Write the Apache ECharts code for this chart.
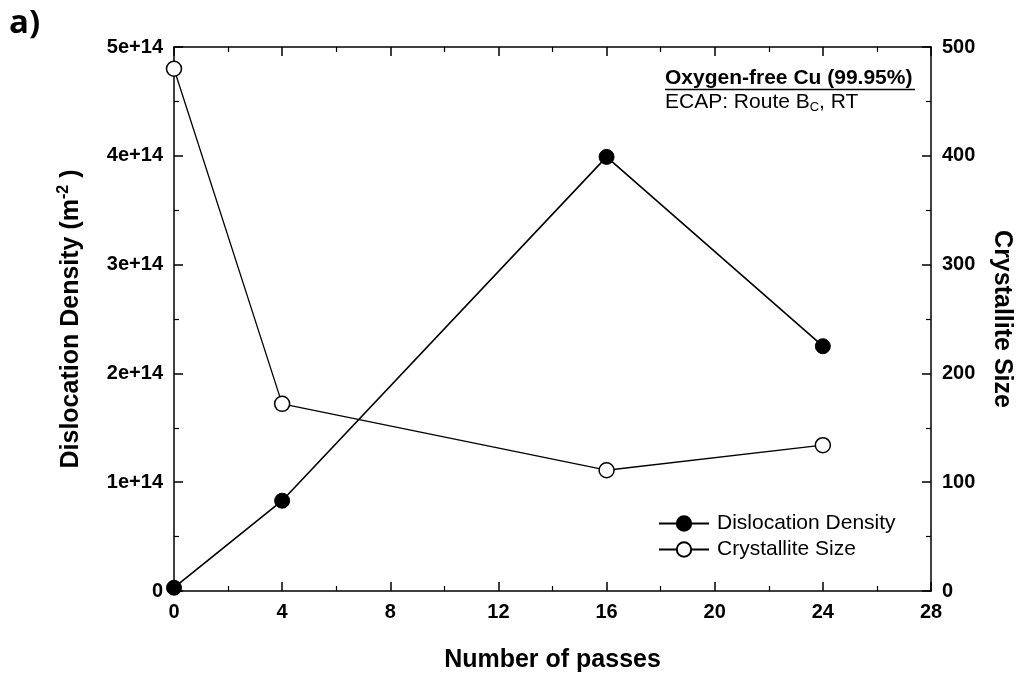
<!DOCTYPE html>
<html><head><meta charset="utf-8">
<script src="https://cdn.jsdelivr.net/npm/echarts@6/dist/echarts.min.js"></script>
<style>html,body{margin:0;padding:0;background:#fff}#c{width:1022px;height:682px}</style>
</head><body><div id="c"></div>
<script>
const passes = [0, 4, 16, 24];
const dislocationDensity = [3e12, 8.3e13, 3.99e14, 2.25e14];
const crystalliteSize = [480, 172, 111, 134];
const seriesNames = ['Dislocation Density', 'Crystallite Size'];
const yLeftTicks = ['0', '1e+14', '2e+14', '3e+14', '4e+14', '5e+14'];

const chart = echarts.init(document.getElementById('c'));
const F = 'Liberation Sans, Arial, sans-serif';
const axisCommon = {
  axisLine: {show: true, onZero: false, lineStyle: {color: '#000', width: 1.5}},
  axisTick: {show: true, inside: true, length: 9, lineStyle: {color: '#000', width: 1.5}},
  minorTick: {show: true, splitNumber: 2, length: 5, lineStyle: {color: '#000', width: 1.2}},
  splitLine: {show: false}
};
chart.setOption({
  backgroundColor: '#fff',
  animation: false,
  grid: {left: 174, right: 91, top: 47, bottom: 91},
  legend: {
    orient: 'vertical', left: 653, top: 508, itemWidth: 50, itemHeight: 18, itemGap: 5,
    textStyle: {fontFamily: F, fontSize: 21, color: '#000', lineHeight: 21, padding: [0, 0, 0, 3]},
    data: seriesNames
  },
  xAxis: [
    Object.assign({}, axisCommon, {
      type: 'value', min: 0, max: 28, interval: 4, position: 'bottom',
      name: 'Number of passes', nameLocation: 'middle', nameGap: 57,
      nameTextStyle: {fontFamily: F, fontSize: 25, fontWeight: 'bold', color: '#000'},
      axisLabel: {fontFamily: F, fontSize: 20, fontWeight: 'bold', color: '#000', margin: 11}
    }),
    Object.assign({}, axisCommon, {
      type: 'value', min: 0, max: 28, interval: 4, position: 'top',
      axisLabel: {show: false}
    })
  ],
  yAxis: [
    Object.assign({}, axisCommon, {
      type: 'value', min: 0, max: 5e14, interval: 1e14, position: 'left',
      name: 'Dislocation Density (m{sup|-2} )', nameLocation: 'middle', nameGap: 88, nameRotate: 90,
      nameTextStyle: {fontFamily: F, fontSize: 25, fontWeight: 'bold', color: '#000',
        rich: {sup: {fontFamily: F, fontSize: 16, fontWeight: 'bold', color: '#000', verticalAlign: 'top', padding: [0,0,14,0]}}},
      axisLabel: {fontFamily: F, fontSize: 20, fontWeight: 'bold', color: '#000', margin: 11,
        formatter: (v) => yLeftTicks[Math.round(v / 1e14)]}
    }),
    Object.assign({}, axisCommon, {
      type: 'value', min: 0, max: 500, interval: 100, position: 'right',
      name: 'Crystallite Size', nameLocation: 'middle', nameGap: 58, nameRotate: -90,
      nameTextStyle: {fontFamily: F, fontSize: 25, fontWeight: 'bold', color: '#000'},
      axisLabel: {fontFamily: F, fontSize: 20, fontWeight: 'bold', color: '#000', margin: 11}
    })
  ],
  series: [
    {
      name: seriesNames[0], type: 'line', xAxisIndex: 0, yAxisIndex: 0,
      data: passes.map((p, i) => [p, dislocationDensity[i]]),
      symbol: 'circle', symbolSize: 15,
      lineStyle: {color: '#000', width: 1.6},
      itemStyle: {color: '#000', borderColor: '#000', borderWidth: 1}
    },
    {
      name: seriesNames[1], type: 'line', xAxisIndex: 0, yAxisIndex: 1,
      data: passes.map((p, i) => [p, crystalliteSize[i]]),
      symbol: 'circle', symbolSize: 15,
      lineStyle: {color: '#000', width: 1.3},
      itemStyle: {color: '#fff', borderColor: '#000', borderWidth: 1.5}
    }
  ],
  graphic: [
    {type: 'text', left: 9, top: 7, style: {text: 'a)', font: 'bold 33px "Open Sans", Arial, sans-serif', fill: '#000'}},
    {type: 'text', left: 665, top: 68, style: {text: 'Oxygen-free Cu (99.95%)', font: 'bold 21px ' + F, fill: '#000'}},
    {type: 'line', shape: {x1: 665, y1: 89.5, x2: 915, y2: 89.5}, style: {stroke: '#000', lineWidth: 1.5}},
    {type: 'text', left: 665, top: 92, style: {
      text: 'ECAP: Route B{sub|C}, RT', font: '21px ' + F, fill: '#000',
      rich: {sub: {fontFamily: F, fontSize: 13, fill: '#000', verticalAlign: 'bottom', padding: [10,0,0,0]}}
    }}
  ]
});
</script></body></html>
